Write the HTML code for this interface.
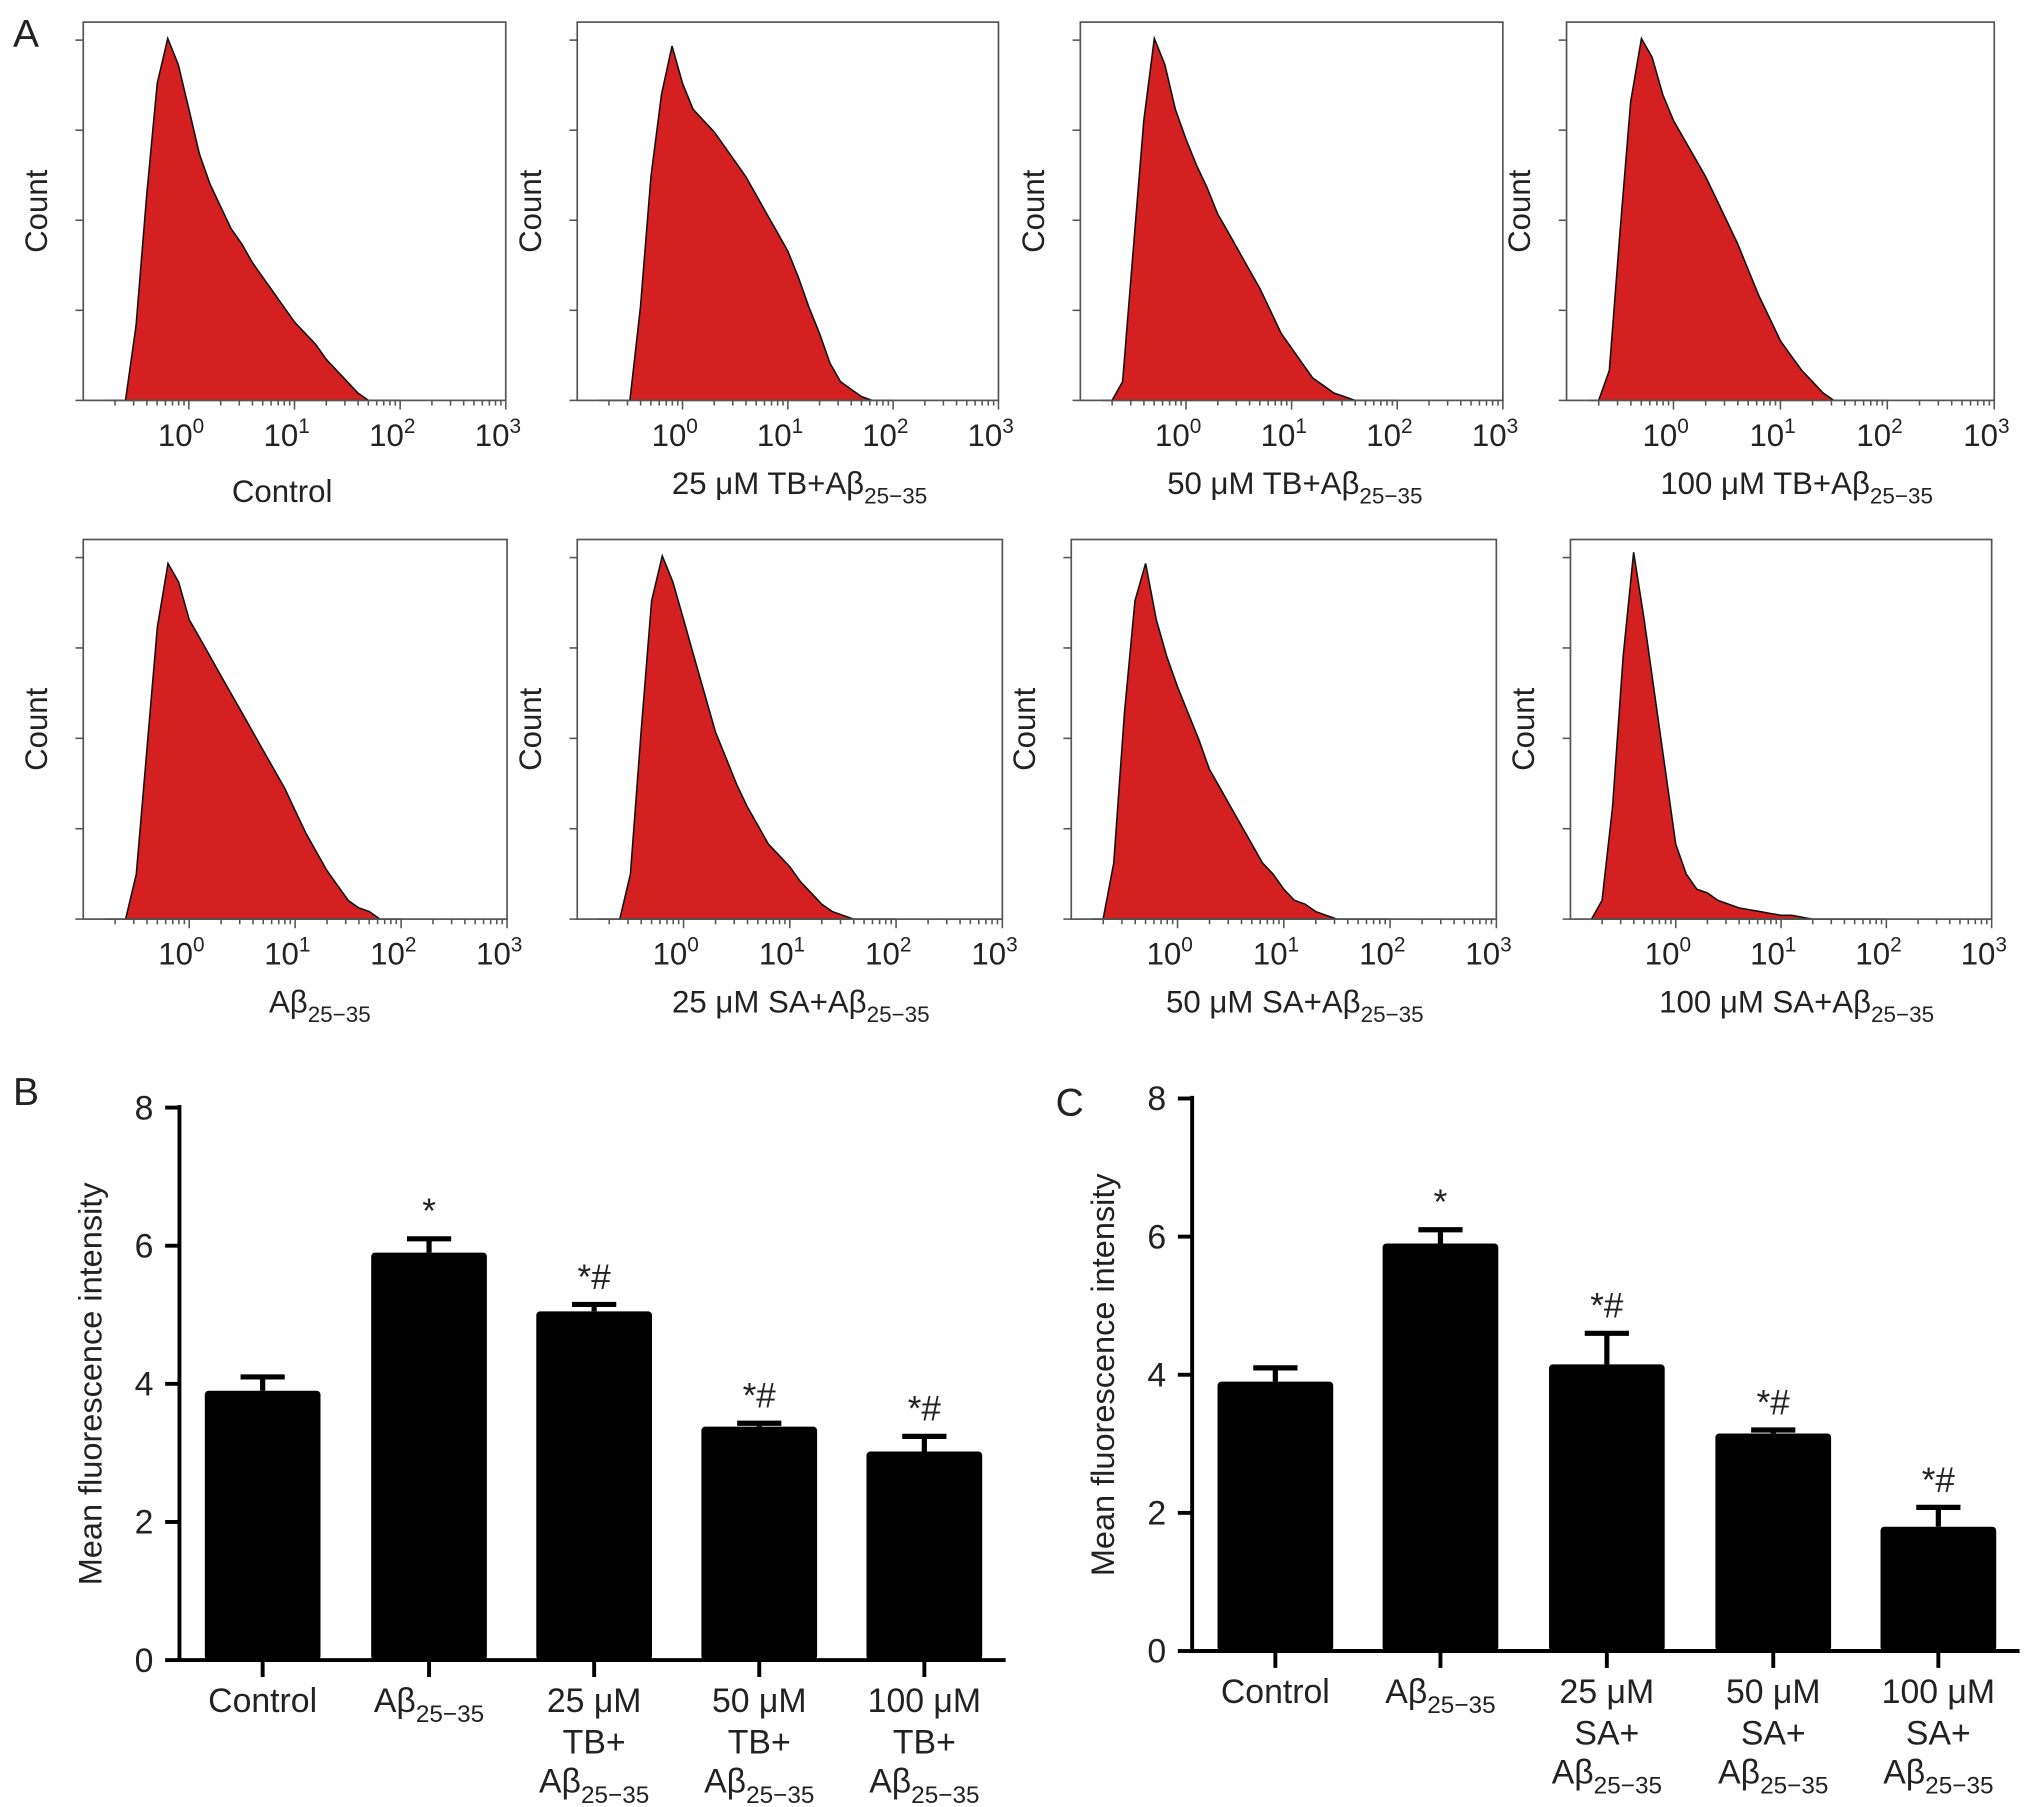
<!DOCTYPE html>
<html><head><meta charset="utf-8"><title>Flow cytometry and mean fluorescence intensity</title>
<style>html,body{margin:0;padding:0;background:#fff}svg{display:block}text{font-family:"Liberation Sans",Arial,sans-serif;fill:#222}</style>
</head><body>
<svg id="fig" xmlns="http://www.w3.org/2000/svg" width="2032" height="1807" viewBox="0 0 1563 1390">
<text x="10" y="36" font-size="30">A</text>
<text x="10" y="850" font-size="30">B</text>
<text x="812" y="858" font-size="30">C</text>
</svg>
<script>
// ---- histogram data (fraction of max count, bins at log10 = -0.8 .. 2.0 step 0.1) ----
const histTitles = ["Control","25 μM TB+","50 μM TB+","100 μM TB+","","25 μM SA+","50 μM SA+","100 μM SA+"];
const histControl = [0,0,0,0.2,0.55,0.85,0.97,0.9,0.78,0.66,0.58,0.52,0.46,0.42,0.37,0.33,0.29,0.25,0.21,0.18,0.15,0.11,0.08,0.05,0.02,0,0,0,0];
const histTB25 = [0,0,0,0,0.25,0.6,0.82,0.95,0.85,0.78,0.75,0.72,0.68,0.64,0.6,0.55,0.5,0.45,0.4,0.33,0.25,0.18,0.1,0.05,0.03,0.01,0,0,0];
const histTB50 = [0,0,0.05,0.4,0.75,0.97,0.9,0.78,0.7,0.63,0.57,0.5,0.45,0.4,0.35,0.3,0.24,0.18,0.14,0.1,0.06,0.04,0.02,0.01,0,0,0,0,0];
const histTB100 = [0,0,0.08,0.45,0.8,0.97,0.92,0.82,0.75,0.7,0.65,0.6,0.54,0.48,0.42,0.35,0.28,0.22,0.16,0.12,0.08,0.05,0.02,0,0,0,0,0,0];
const histAb = [0,0,0,0.12,0.45,0.78,0.95,0.9,0.8,0.75,0.7,0.65,0.6,0.55,0.5,0.45,0.4,0.35,0.29,0.23,0.18,0.13,0.09,0.05,0.03,0.02,0,0,0];
const histSA25 = [0,0,0,0.12,0.5,0.85,0.97,0.9,0.8,0.7,0.6,0.5,0.43,0.36,0.3,0.25,0.2,0.17,0.14,0.1,0.07,0.04,0.02,0.01,0,0,0,0,0];
const histSA50 = [0,0,0.15,0.55,0.85,0.95,0.8,0.7,0.62,0.55,0.48,0.4,0.35,0.3,0.25,0.2,0.15,0.12,0.08,0.05,0.04,0.02,0.01,0,0,0,0,0,0];
const histSA100 = [0,0.05,0.3,0.7,0.98,0.8,0.6,0.4,0.2,0.12,0.08,0.07,0.05,0.04,0.03,0.025,0.02,0.015,0.01,0.01,0.005,0,0,0,0,0,0,0,0];
const histDecades = [0,1,2,3];

// ---- bar chart data ----
const barCategories = ["Control","Aβ","25 μM","50 μM","100 μM"];
const barsBValues = [3.9,5.9,5.05,3.38,3.02];
const barsBErrors = [0.2,0.2,0.1,0.05,0.22];
const barsBMarks = ["","*","*#","*#","*#"];
const barsCValues = [3.9,5.9,4.15,3.15,1.8];
const barsCErrors = [0.2,0.2,0.45,0.05,0.28];
const barsCMarks = ["","*","*#","*#","*#"];
const yTicks = [0,2,4,6,8];

const NS="http://www.w3.org/2000/svg";
const svg=document.getElementById('fig');
function mk(tag,attrs,parent){const e=document.createElementNS(NS,tag);for(const k in attrs)e.setAttribute(k,attrs[k]);(parent||svg).appendChild(e);return e;}
function abText(parent,x,y,size,prefix,anchor){
  const t=mk('text',{x:x,y:y,'font-size':size,'text-anchor':anchor||'middle'},parent);
  t.appendChild(document.createTextNode(prefix+'Aβ'));
  const s=mk('tspan',{'font-size':size*0.72,dy:size*0.3},t);
  s.textContent='25−35';
  return t;
}

const hists=[histControl,histTB25,histTB50,histTB100,histAb,histSA25,histSA50,histSA100];
const boxes=[[64,17,389,308],[444,17,768,308],[831,17,1156,308],[1205,17,1534,308],
             [64,415,390,707],[444,415,771,707],[824,415,1151,707],[1208,415,1532,707]];
const titleX=[217,615,996,1382,246,616,996,1382];
hists.forEach((h,i)=>{
  const [L,T,R,B]=boxes[i];
  const g=mk('g',{});
  
  
  const xs=v=>L+(v+1)/4*(R-L);
  const ys=f=>B-f*(B-T-4);
  let d='M'+xs(-0.8)+','+B;
  h.forEach((f,j)=>{d+=' L'+xs(-0.8+j*0.1).toFixed(1)+','+ys(f).toFixed(1);});
  d+=' L'+xs(2.0)+','+B+' Z';
  const p=mk('path',{d:d,fill:'#d42020',stroke:'#111','stroke-width':1.2},g);
  
  
  const fr=mk('rect',{x:L,y:T,width:R-L,height:B-T,fill:'none',stroke:'#555','stroke-width':1.3},g);
  
  
  for(let k=0;k<5;k++){const yy=B-k*(B-T)/4.2;mk('line',{x1:L-6,x2:L,y1:yy,y2:yy,stroke:'#555','stroke-width':1.2},g);}
  for(let dec=-1;dec<3;dec++){for(let m=2;m<=10;m++){const v=dec+Math.log10(m);if(v<-0.85)continue;const xx=xs(v);mk('line',{x1:xx,x2:xx,y1:B,y2:B+(m==10?7:4),stroke:'#555','stroke-width':1.2},g);}}
  histDecades.forEach(dv=>{
    const t=mk('text',{x:xs(dv)-6,y:B+35,'font-size':24,'text-anchor':'middle'},g);
    
    
    t.appendChild(document.createTextNode('10'));
    const s=mk('tspan',{'font-size':16,dy:-10},t);s.textContent=String(dv);
  });
  const cy=(T+B)/2;
  const yl=mk('text',{x:0,y:0,'font-size':24,'text-anchor':'middle',transform:'translate('+(L-28)+','+cy+') rotate(-90)'},g);
  
  
  yl.textContent='Count';
  const cx=titleX[i];
  let tt;
  if(i===0){tt=mk('text',{x:cx,y:B+78,'font-size':24,'text-anchor':'middle'},g);tt.textContent='Control';}
  else tt=abText(g,cx,B+72,24,histTitles[i]?histTitles[i].replace('+',' ').trim().replace(/ (TB|SA)$/,' $1+'):'');
  
  
});

function barChart(name,ax,y0,y8,centers,vals,errs,marks,drug){
  const g=mk('g',{});
  
  
  const ys=v=>y0-(y0-y8)*v/8;
  const bw=89;
  vals.forEach((v,i)=>{
    const cx=centers[i];
    const e=errs[i];
    const eb=mk('line',{x1:cx,x2:cx,y1:ys(v),y2:ys(v+e),stroke:'#000','stroke-width':4},g);
    
    
    mk('line',{x1:cx-17,x2:cx+17,y1:ys(v+e),y2:ys(v+e),stroke:'#000','stroke-width':4},g);
    const r=mk('rect',{x:cx-bw/2,y:ys(v),width:bw,height:y0-ys(v),fill:'#000',rx:3},g);
    
    
    if(marks[i]){const m=mk('text',{x:cx,y:ys(v+e)-12,'font-size':27,'text-anchor':'middle'},g);
      
      
      m.textContent=marks[i];}
    mk('line',{x1:cx,x2:cx,y1:y0,y2:y0+13,stroke:'#000','stroke-width':3},g);
    let lab;
    if(i===0){lab=mk('text',{x:cx,y:y0+40,'font-size':26,'text-anchor':'middle'},g);lab.textContent=barCategories[0];}
    else if(i===1){lab=abText(g,cx,y0+40,26,'');}
    else{lab=mk('text',{x:cx,y:y0+40,'font-size':26,'text-anchor':'middle'},g);lab.textContent=barCategories[i];
      const l2=mk('text',{x:cx,y:y0+72,'font-size':26,'text-anchor':'middle'},g);l2.textContent=drug+'+';
      abText(g,cx,y0+102,26,'');}
    
    
  });
  mk('line',{x1:ax,x2:centers[4]+bw/2+18,y1:y0,y2:y0,stroke:'#000','stroke-width':3},g);
  mk('line',{x1:ax,x2:ax,y1:y8-2,y2:y0+1.5,stroke:'#000','stroke-width':3},g);
  yTicks.forEach(t=>{
    mk('line',{x1:ax-11,x2:ax,y1:ys(t),y2:ys(t),stroke:'#000','stroke-width':3},g);
    const tl=mk('text',{x:ax-20,y:ys(t)+9,'font-size':26,'text-anchor':'end'},g);
    
    
    tl.textContent=String(t);
  });
  const yt=mk('text',{x:0,y:0,'font-size':25,'text-anchor':'middle',transform:'translate('+(ax-60)+','+((y0+y8)/2)+') rotate(-90)'},g);
  
  
  yt.textContent='Mean fluorescence intensity';
}
barChart('bar-chart-b',138,1277,852,[202,330,457,584,711],barsBValues,barsBErrors,barsBMarks,'TB');
barChart('bar-chart-c',917,1270,845,[981,1108,1236,1364,1491],barsCValues,barsCErrors,barsCMarks,'SA');
</script>
</body></html>
